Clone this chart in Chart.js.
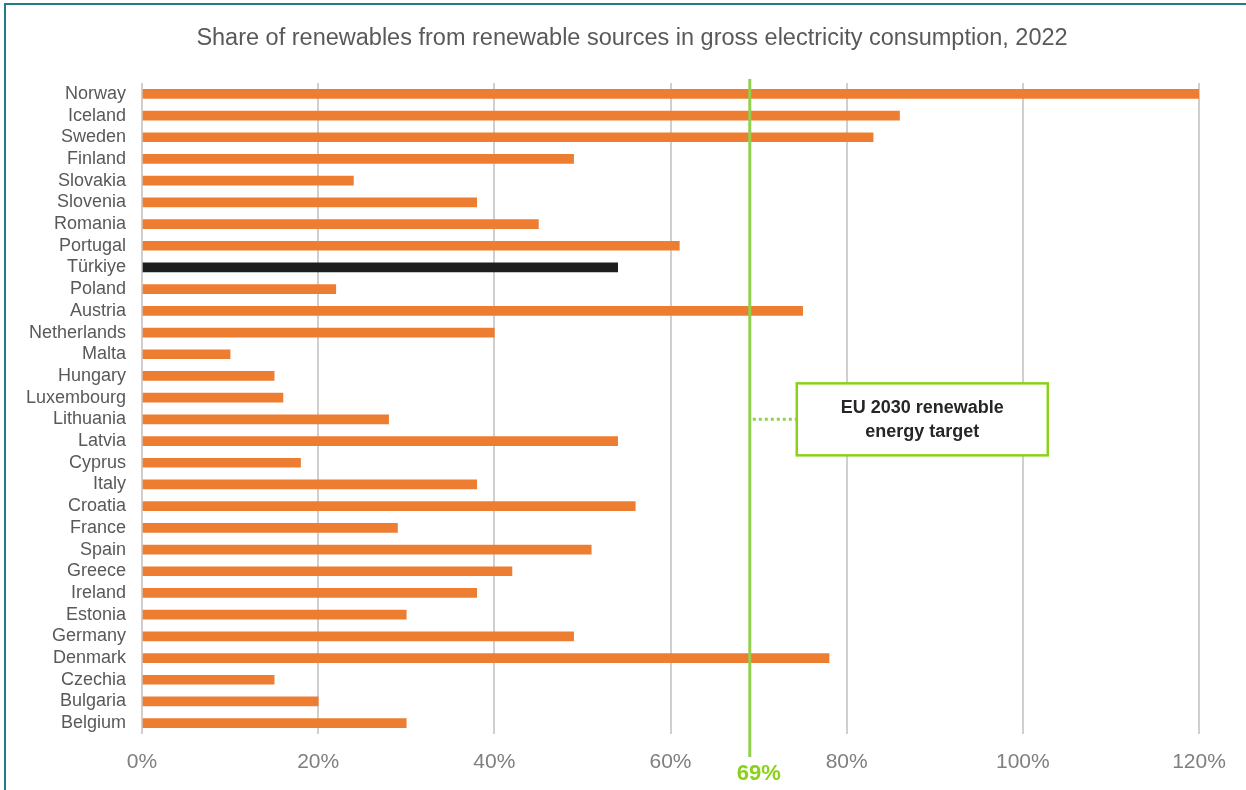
<!DOCTYPE html>
<html>
<head>
<meta charset="utf-8">
<script src="https://cdn.jsdelivr.net/npm/chart.js@4/dist/chart.umd.min.js"></script>
<style>
  html, body { margin: 0; padding: 0; background: #fff; }
  #wrap {
    position: relative;
    width: 1246px; height: 790px;
    overflow: hidden;
  }
  #frame {
    position: absolute; left: 4px; top: 3px; right: -10px; bottom: -10px;
    border-top: 2px solid #237a8b;
    border-left: 2px solid #237a8b;
    pointer-events: none;
  }
</style>
</head>
<body>
<div id="wrap">
  <canvas id="myChart" width="1246" height="790"></canvas>
  <div id="frame"></div>
</div>
<script>
// Renewable share of gross electricity consumption, 2022 (%)
var countries = ['Norway', 'Iceland', 'Sweden', 'Finland', 'Slovakia', 'Slovenia', 'Romania',
  'Portugal', 'Türkiye', 'Poland', 'Austria', 'Netherlands', 'Malta', 'Hungary', 'Luxembourg',
  'Lithuania', 'Latvia', 'Cyprus', 'Italy', 'Croatia', 'France', 'Spain', 'Greece', 'Ireland',
  'Estonia', 'Germany', 'Denmark', 'Czechia', 'Bulgaria', 'Belgium'];
var shares = [120, 86, 83, 49, 24, 38, 45, 61, 54, 22, 75, 40, 10, 15, 16, 28, 54, 18, 38, 56,
  29, 51, 42, 38, 30, 49, 78, 15, 20, 30];
var xTicks = [0, 20, 40, 60, 80, 100, 120];
var euTarget = 69;
var targetLabel = ['EU 2030 renewable', 'energy target'];
var targetRow = 'Lithuania';
var chartTitle = 'Share of renewables from renewable sources in gross electricity consumption, 2022';

var orange = '#ed7d31';
var highlight = '#1e1e1e';
var green = '#92d050';
var lime = '#8ad217';
var fontFamily = '"Liberation Sans", Arial, sans-serif';

var barColors = countries.map(function (c) { return c === 'Türkiye' ? highlight : orange; });

// title sits a bit right of the canvas centre, so it is drawn by hand
var titlePlugin = {
  id: 'offsetTitle',
  afterDraw: function (chart) {
    var ctx = chart.ctx;
    ctx.save();
    ctx.fillStyle = '#595959';
    ctx.font = '23.5px ' + fontFamily;
    ctx.textAlign = 'center';
    ctx.textBaseline = 'middle';
    ctx.fillText(chartTitle, 632, 39);
    ctx.restore();
  }
};

// target line, its value label and the callout box
var targetPlugin = {
  id: 'targetLine',
  afterDatasetsDraw: function (chart) {
    var ctx = chart.ctx, area = chart.chartArea;
    var xs = chart.scales.x, ys = chart.scales.y;
    var x = xs.getPixelForValue(euTarget);

    ctx.save();
    ctx.strokeStyle = green;
    ctx.lineWidth = 3;
    ctx.beginPath();
    ctx.moveTo(x, area.top - 4);
    ctx.lineTo(x, area.bottom + 23);
    ctx.stroke();

    ctx.fillStyle = lime;
    ctx.font = 'bold 22px ' + fontFamily;
    ctx.textAlign = 'center';
    ctx.textBaseline = 'middle';
    ctx.fillText(euTarget + '%', x + 9, 774);

    // callout
    var cy = ys.getPixelForValue(countries.indexOf(targetRow));
    var bx = x + 47, bw = 251, bh = 72, by = cy - bh / 2;
    ctx.setLineDash([3, 3]);
    ctx.lineWidth = 3;
    ctx.strokeStyle = green;
    ctx.beginPath();
    ctx.moveTo(x + 3, cy);
    ctx.lineTo(bx, cy);
    ctx.stroke();
    ctx.setLineDash([]);

    ctx.fillStyle = '#fff';
    ctx.fillRect(bx, by, bw, bh);
    ctx.strokeStyle = lime;
    ctx.lineWidth = 2.5;
    ctx.strokeRect(bx, by, bw, bh);

    ctx.fillStyle = '#262626';
    ctx.font = 'bold 18px ' + fontFamily;
    ctx.fillText(targetLabel[0], bx + bw / 2, cy - 11);
    ctx.fillText(targetLabel[1], bx + bw / 2, cy + 13);
    ctx.restore();
  }
};

var ctx = document.getElementById('myChart').getContext('2d');
var myChart = new Chart(ctx, {
  type: 'bar',
  data: {
    labels: countries,
    datasets: [{
      data: shares,
      backgroundColor: barColors,
      barThickness: 9,
      borderWidth: 0
    }]
  },
  options: {
    indexAxis: 'y',
    responsive: false,
    animation: false,
    layout: { padding: { left: 0, right: 47, top: 83, bottom: 0 } },
    plugins: {
      legend: { display: false },
      tooltip: { enabled: false },
      title: { display: false }
    },
    scales: {
      x: {
        min: 0,
        max: 120,
        afterBuildTicks: function (scale) {
          scale.ticks = xTicks.map(function (v) { return { value: v }; });
        },
        afterFit: function (scale) { scale.height = 56; },
        grid: { color: '#cfcfcf', lineWidth: 2, drawTicks: false },
        border: { display: false },
        ticks: {
          padding: 16,
          color: '#7f7f7f',
          font: { family: fontFamily, size: 21 },
          callback: function (v) { return v + '%'; }
        }
      },
      y: {
        afterFit: function (scale) { scale.width = 142; },
        grid: { display: false, drawTicks: false },
        border: { display: false },
        ticks: {
          padding: 16,
          autoSkip: false,
          color: '#595959',
          font: { family: fontFamily, size: 18 }
        }
      }
    }
  },
  plugins: [targetPlugin, titlePlugin]
});
</script>
</body>
</html>
